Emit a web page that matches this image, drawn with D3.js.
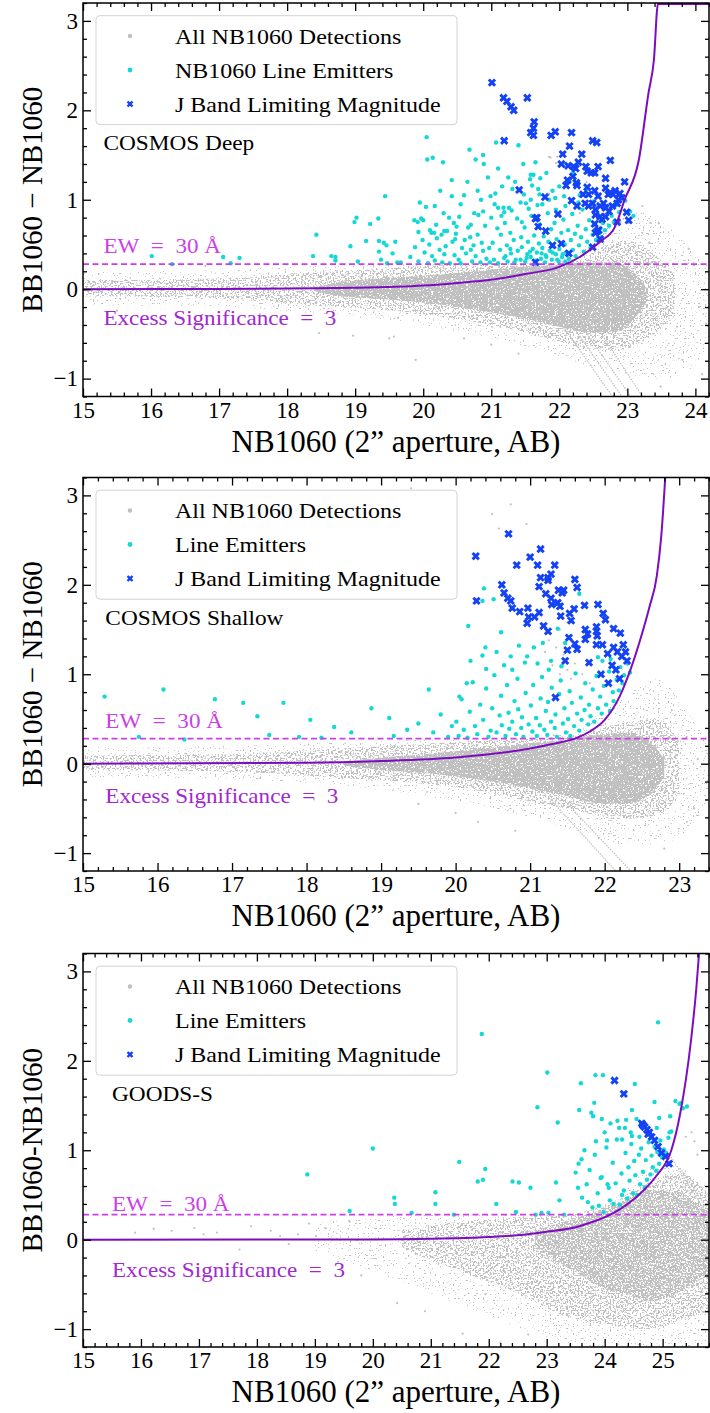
<!DOCTYPE html>
<html>
<head>
<meta charset="utf-8">
<script src="https://cdn.jsdelivr.net/npm/d3@7"></script>
<style>
body{margin:0;background:#fff}
</style>
</head>
<body>
<div id="chart"></div>
<script>

// ---- tick labels ----
var yTicks = [-1, 0, 1, 2, 3]
var deepXTicks = [15, 16, 17, 18, 19, 20, 21, 22, 23, 24]
var shallowXTicks = [15, 16, 17, 18, 19, 20, 21, 22, 23]
var goodsXTicks = [15, 16, 17, 18, 19, 20, 21, 22, 23, 24, 25]

var legendNames = ["All NB1060 Detections", "Line Emitters", "J Band Limiting Magnitude"]

// EW = 30 A line (colour excess)
var ewCut = 0.28

// ---- excess significance = 3 curves [mag, colour] ----
var deepCurve = [[15,0],[17,0.003],[18,0.008],[19,0.015],[20,0.04],[20.5,0.07],[21,0.106],[21.5,0.17],[22,0.25],[22.3,0.36],[22.6,0.53],[22.82,0.70],[22.96,1.0],[23.17,1.45],[23.31,2.19],[23.39,2.56],[23.45,3.19],[24.2,3.19]]
var shallowCurve = [[15,0],[18,0.01],[19,0.03],[20,0.07],[20.5,0.11],[21,0.17],[21.3,0.22],[21.6,0.28],[21.8,0.36],[22,0.49],[22.2,0.75],[22.35,1.06],[22.5,1.45],[22.6,1.75],[22.7,2.1],[22.76,2.55],[22.82,3.3]]
var goodsCurve = [[15,0],[20,0.003],[21,0.01],[22,0.03],[22.5,0.05],[23,0.09],[23.5,0.14],[23.8,0.2],[24.1,0.28],[24.4,0.4],[24.7,0.57],[24.9,0.72],[25.15,1.0],[25.3,1.4],[25.49,2.23],[25.58,2.8],[25.64,3.3]]

// ---- all detections: density envelopes [mag, upper, lower] ----
var deepFringe = [[15,0.2,-0.18],[17,0.22,-0.2],[18.5,0.26,-0.28],[20,0.28,-0.4],[21,0.28,-0.55],[21.8,0.30,-0.7],[22.4,0.5,-0.85],[23,0.9,-0.95],[23.5,0.75,-1.0],[24,0.4,-0.85],[24.2,0.25,-0.6]]
var deepHalo = [[15,0.10,-0.08],[17,0.12,-0.10],[18.3,0.18,-0.18],[19.2,0.22,-0.22],[20,0.26,-0.28],[21,0.28,-0.40],[21.8,0.29,-0.54],[22.4,0.38,-0.66],[22.9,0.55,-0.68],[23.3,0.45,-0.55],[23.7,0.15,-0.3]]
var deepCore = [[18.4,0.02,-0.02],[18.8,0.08,-0.08],[19.2,0.11,-0.10],[19.6,0.13,-0.12],[20,0.15,-0.15],[20.5,0.18,-0.20],[21,0.22,-0.26],[21.5,0.25,-0.33],[22,0.27,-0.42],[22.4,0.30,-0.48],[22.8,0.30,-0.48],[23.1,0.18,-0.33],[23.3,0.0,-0.12]]

var shallowFringe = [[15,0.18,-0.15],[17,0.2,-0.18],[18.5,0.24,-0.25],[20,0.28,-0.42],[21,0.30,-0.6],[21.6,0.4,-0.75],[22.2,0.7,-0.9],[22.7,0.95,-0.9],[23.1,0.6,-0.75],[23.4,0.2,-0.4]]
var shallowHalo = [[15,0.09,-0.07],[17,0.11,-0.09],[18.5,0.17,-0.16],[19.5,0.22,-0.22],[20.3,0.26,-0.30],[21,0.28,-0.42],[21.6,0.32,-0.52],[22.2,0.45,-0.62],[22.7,0.5,-0.58],[23,0.25,-0.35]]
var shallowCore = [[18.5,0.02,-0.02],[19,0.07,-0.07],[19.5,0.10,-0.10],[20,0.14,-0.14],[20.5,0.18,-0.20],[21,0.23,-0.28],[21.5,0.27,-0.36],[21.9,0.32,-0.44],[22.3,0.35,-0.45],[22.6,0.25,-0.35],[22.8,0.05,-0.15]]

var goodsFringe = [[19,0.18,-0.12],[20,0.25,-0.35],[21,0.28,-0.6],[22,0.28,-0.85],[23,0.28,-1.1],[24,0.40,-1.2],[25,0.85,-1.2],[25.8,0.6,-1.2]]
var goodsHalo = [[20.5,0.1,-0.1],[21.5,0.2,-0.35],[22.5,0.25,-0.6],[23.3,0.28,-0.85],[24,0.38,-0.95],[24.8,0.65,-1.0],[25.3,0.75,-0.9],[25.8,0.5,-0.8]]
var goodsCore = [[22.8,0.10,-0.10],[23.2,0.18,-0.25],[23.6,0.26,-0.40],[24,0.35,-0.55],[24.4,0.45,-0.62],[24.8,0.55,-0.68],[25.2,0.55,-0.62],[25.5,0.45,-0.50],[25.8,0.30,-0.40]]

// isolated detections [mag, colour]
var deepGrey = [[18.47,-0.49],[18.97,-0.52],[19.50,-0.55],[19.57,-0.53],[19.63,-0.32],[19.89,-0.79],[17.6,-0.28],[16.8,0.26],[15.5,-0.24],[20.6,-0.55],[21.0,-0.62],[21.4,-0.72],[23.61,-0.23],[23.73,-0.42],[23.81,-0.79],[23.49,-1.09],[23.22,0.63],[23.32,0.52],[22.0,1.37],[21.87,1.47],[21.95,1.41],[21.85,1.48],[21.97,1.48],[23.22,0.93],[23.34,0.74],[23.46,0.74],[21.85,1.07],[21.75,0.96],[21.85,1.06],[23.9,0.45],[24.05,-0.2],[24.1,-0.95],[22.4,1.2],[22.3,0.85],[22.6,0.7],[22.9,0.75]]
var shallowGrey = [[19.40,3.08],[19.46,3.00],[20.49,2.79],[20.58,2.63],[20.74,2.90],[20.95,2.68],[21.2,1.25],[21.3,1.1],[21.35,1.3],[21.4,1.0],[21.5,1.05],[21.55,0.95],[21.25,1.38],[21.45,1.22],[21.6,1.12],[21.65,1.25],[21.7,1.0],[21.4,1.5],[21.5,1.58],[21.8,0.9],[17.2,-0.35],[18.1,-0.4],[19.5,-0.45],[20.0,-0.55],[20.3,-0.65],[22.9,0.6],[23.1,0.3],[23.2,-0.5],[22.8,-0.95],[23.25,0.05],[20.8,-0.75]]
var goodsGrey = [[16.22,0.12],[16.53,0.10],[16.92,0.13],[17.08,0.06],[17.31,0.08],[17.70,-0.11],[18.24,0.10],[18.40,0.04],[18.71,0.06],[19.02,0.04],[19.18,0.13],[15.9,0.08],[17.9,0.15],[18.55,-0.05],[18.9,0.18],[19.4,-0.25],[19.6,0.2],[19.8,-0.4],[20.42,-0.71],[21.55,-1.05],[22.68,-1.06],[21.94,-0.61],[25.4,1.15],[25.5,1.2],[25.55,1.1],[25.6,0.95],[20.9,-0.8],[22.2,-1.15],[23.4,-1.18]]

// saturated / limit streaks [mag0, col0, mag1, col1]
var deepStreaks = [[21.95,-0.30,22.78,-1.2],[22.12,-0.33,22.92,-1.2],[22.30,-0.38,23.05,-1.2],[22.55,-0.42,23.22,-1.2]]
var shallowStreaks = [[21.25,-0.38,22.15,-1.2],[21.5,-0.45,22.35,-1.2]]
var goodsStreaks = [[25.12,0.95,25.8,0.25],[25.3,0.8,25.8,0.32]]

// ---- line emitters [mag, colour] ----
var deepCyan = [[16.01,0.37],[16.31,0.28],[17.06,0.36],[17.17,0.29],[17.30,0.35],[18.38,0.37],[18.43,0.61],[18.65,0.37],[18.71,0.36],[18.71,0.32],[18.93,0.48],[18.99,0.75],[19.02,0.80],[19.04,0.31],[19.16,0.54],[19.22,0.73],[19.34,0.79],[19.35,0.54],[19.42,0.52],[19.46,0.49],[19.35,0.42],[19.38,0.33],[19.47,0.29],[19.55,0.40],[19.59,0.53],[19.62,0.30],[19.67,0.30],[19.44,1.04],
[19.87,0.77],[19.92,0.75],[19.95,0.97],[19.97,0.79],[20.0,0.77],[20.04,0.92],[20.05,1.70],[20.06,1.45],[20.14,1.47],[20.17,0.93],[20.29,1.42],[20.42,1.22],[20.42,1.04],[20.68,1.56],[19.93,0.64],[20.10,0.66],[20.19,0.72],[20.12,0.63],[20.16,0.63],[20.27,0.61],[20.31,0.65],[20.35,0.65],[20.38,0.80],[20.45,0.74],[20.49,0.70],[20.53,0.81],[20.47,0.56],
[19.81,0.36],[19.88,0.47],[19.93,0.31],[19.99,0.55],[20.02,0.41],[20.07,0.29],[20.09,0.50],[20.13,0.37],[20.17,0.32],[20.24,0.44],[20.2,0.57],[20.28,0.30],[20.33,0.48],[20.31,0.39],[20.39,0.29],[20.43,0.53],[20.46,0.38],[20.52,0.33],[20.48,0.62],[20.57,0.46],[20.55,0.29],[20.63,0.40],[20.61,0.55],[20.66,0.69],[20.7,0.44],[20.72,0.31],[20.69,0.58],[20.77,0.37],[20.74,0.49],[20.81,0.83],[20.84,0.30],[20.8,0.61],[20.88,0.43],[20.86,0.52],[20.93,0.34],[20.91,0.71],[20.97,0.46],[20.98,0.30],
[20.77,1.45],[20.88,1.50],[20.89,1.40],[21.07,1.64],[21.40,1.61],[21.47,1.40],[21.65,1.42],[21.58,1.28],[21.62,1.28],[21.72,1.24],[21.57,1.23],[21.81,1.30],[21.16,1.15],[21.31,1.12],[21.35,1.20],[21.60,1.16],[21.69,1.12],[20.99,1.04],[21.06,1.07],[20.85,1.00],[20.75,0.85],[20.88,0.87],[21.10,0.91],[21.18,0.91],[21.26,0.91],[21.19,0.86],[21.48,1.06],[21.51,0.96],[21.43,0.97],[21.58,1.00],[21.68,0.94],[21.71,1.06],[21.85,1.00],[21.94,1.02],[22.07,1.04],[22.09,0.93],[21.95,0.89],
[21.02,0.52],[21.04,0.33],[21.09,0.68],[21.1,0.29],[21.13,0.44],[21.14,0.61],[21.19,0.35],[21.2,0.74],[21.23,0.49],[21.24,0.31],[21.28,0.63],[21.29,0.40],[21.33,0.55],[21.34,0.30],[21.38,0.79],[21.39,0.43],[21.43,0.33],[21.44,0.58],[21.45,0.47],[21.49,0.69],[21.5,0.31],[21.53,0.39],[21.54,0.53],[21.58,0.36],[21.59,0.82],[21.61,0.45],[21.63,0.60],[21.64,0.29],[21.67,0.41],[21.7,0.51],[21.71,0.72],[21.73,0.34],[21.75,0.46],[21.77,0.59],[21.79,0.30],[21.8,0.38],[21.83,0.85],[21.84,0.53],[21.86,0.43],[21.88,0.67],[21.89,0.33],[21.91,0.48],[21.93,0.74],[21.95,0.39],[21.96,0.56],[21.99,0.31],[22.0,0.45],[22.03,0.63],[22.04,0.36],[22.06,0.78],[22.08,0.50],[22.1,0.41],[22.13,0.66],[22.14,0.34],[22.17,0.55],[22.19,0.84],[22.2,0.44],[22.23,0.62],[22.24,0.37],[22.27,0.71],[22.29,0.49],[22.32,0.58],[22.34,0.89],[22.36,0.42],[22.39,0.67],[22.41,0.53],[22.44,0.77],[22.46,0.47],[22.49,0.61],[22.51,0.72],[22.54,0.55],[22.57,0.83],[22.59,0.63],[22.62,0.58],[22.64,0.74],[22.67,0.66],[22.69,0.92],[22.73,0.71],[22.77,0.82],[22.8,0.75],[22.84,0.94],[22.88,0.86],[22.97,0.99],[23.04,0.87],[23.09,0.82],
[21.21,0.37],[21.36,0.33],[21.52,0.35],[21.66,0.32],[21.81,0.36],[21.97,0.33],[22.09,0.31],[21.28,0.45],[21.57,0.42],[21.74,0.40],[21.9,0.41],[22.05,0.39],
[21.05,0.95],[21.15,0.82],[21.3,0.88],[21.45,0.75],[21.55,0.90],[21.75,0.95],[21.9,1.1],[22.0,1.15],[22.15,1.2],[22.3,1.05],[22.4,1.12],[22.5,0.98],[22.2,1.3],[22.28,0.97],[21.25,1.25],[21.1,1.35],[20.95,1.25],[20.6,1.05],[20.55,0.95],[20.7,0.72],[20.65,1.2],[20.25,1.1],[20.3,0.85],[20.8,1.1],[21.0,0.8]]

var shallowCyan = [[15.29,0.75],[16.08,0.83],[16.77,0.72],[17.15,0.68],[17.34,0.53],[17.69,0.68],[18.05,0.49],[18.37,0.41],[18.87,0.62],[19.11,0.51],[19.64,0.83],[19.17,0.31],[16.36,0.27],[15.75,0.30],[17.9,0.30],[18.6,0.35],[19.35,0.38],[19.5,0.45],[19.7,0.35],[19.8,0.55],[18.2,0.29],[17.5,0.32],[19.9,0.3],[19.95,0.42],
[20.38,1.96],[20.36,1.82],[20.51,1.84],[20.17,1.54],[20.61,1.47],[20.36,1.21],[20.74,1.20],[20.96,1.20],[20.93,1.13],[21.37,1.51],[21.66,1.90],[21.17,1.35],[21.47,1.35],[21.28,1.15],[21.42,1.09],[21.91,1.19],[21.97,1.15],[22.08,1.17],[20.41,1.06],[20.76,1.05],
[20.01,0.47],[20.04,0.31],[20.08,0.72],[20.11,0.38],[20.16,0.29],[20.19,0.58],[20.23,0.91],[20.26,0.42],[20.29,0.33],[20.33,0.66],[20.37,0.49],[20.41,0.84],[20.44,0.30],[20.47,0.37],[20.49,0.62],[20.52,0.99],[20.55,0.35],[20.59,0.54],[20.61,0.76],[20.62,0.43],[20.67,0.31],[20.69,0.88],[20.71,0.57],[20.72,0.39],[20.76,0.47],[20.79,0.70],[20.81,0.33],[20.83,0.95],[20.84,0.61],[20.88,0.40],[20.89,0.52],[20.91,0.30],[20.94,0.79],[20.98,0.44],[21.01,0.65],[21.03,0.36],[21.04,0.88],[21.08,0.51],[21.09,0.31],[21.13,0.43],[21.14,0.73],[21.16,0.97],[21.19,0.38],[21.21,0.59],[21.23,0.32],[21.24,0.69],[21.28,0.47],[21.29,0.85],[21.33,0.40],[21.34,0.55],[21.36,0.30],[21.39,0.78],[21.41,0.93],[21.44,0.45],[21.46,0.62],[21.48,0.35],[21.51,0.50],[21.53,0.81],[21.54,0.31],[21.56,0.68],[21.59,0.42],[21.61,1.01],[21.63,0.56],[21.66,0.37],[21.68,0.74],[21.69,0.49],[21.73,0.60],[21.74,0.90],[21.78,0.44],[21.79,0.66],[21.81,0.53],[21.84,0.83],[21.86,0.47],[21.89,0.98],[21.91,0.62],[21.94,0.75],[21.96,0.56],[21.99,0.87],[22.02,0.66],[22.06,1.03],[22.07,0.59],[22.11,0.80],[22.12,0.70],[22.16,0.94],[22.19,0.82],[22.21,1.08],[22.24,0.90],[22.26,0.99],[22.31,1.12],[22.34,1.02],
[20.4,1.3],[20.55,1.25],[20.85,1.32],[21.05,1.3],[21.25,1.05],[21.1,1.12],[20.65,1.1],[20.2,1.15],[20.15,0.9],[20.05,0.75]]

var goodsCyan = [[21.88,2.30],[24.92,2.43],[23.01,1.87],[23.84,1.84],[23.97,1.84],[23.59,1.75],[24.52,1.74],[22.84,1.48],[23.19,1.31],[23.82,1.53],[23.56,1.45],[23.77,1.42],[23.80,1.38],[23.95,1.35],[24.10,1.30],[24.22,1.33],[24.37,1.34],[24.47,1.45],[24.86,1.54],[25.22,1.55],[25.29,1.52],[25.32,1.53],[25.42,1.49],[25.35,1.47],[24.94,1.36],[25.13,1.38],[25.12,1.20],[24.47,1.16],[24.30,1.12],[24.04,1.11],
[18.87,0.73],[20.37,0.47],[20.38,0.40],[20.67,0.30],[21.08,0.53],[21.08,0.40],[21.40,0.28],[21.49,0.87],[21.81,0.65],[21.90,0.67],[21.94,0.79],[22.13,0.40],[22.41,0.65],[22.47,0.31],[22.52,0.64],[22.72,0.58],[22.81,0.28],[22.91,0.30],[23.03,0.30],[23.16,0.64],[23.22,0.44],[23.30,0.28],[23.50,0.75],[23.54,0.58],[23.61,0.47],[23.69,0.62],[19.6,0.32],[20.0,1.02],
[23.71,0.42],[23.74,0.78],[23.79,0.36],[23.83,0.95],[23.88,0.52],[23.93,0.69],[23.98,0.31],[24.03,1.03],[24.07,0.58],[24.09,0.44],[24.14,0.86],[24.19,0.63],[24.21,1.12],[24.26,0.39],[24.29,0.74],[24.33,0.55],[24.36,0.97],[24.39,0.46],[24.41,0.81],[24.43,0.66],[24.46,1.07],[24.49,0.52],[24.51,0.88],[24.53,0.72],[24.56,0.50],[24.59,0.95],[24.61,0.62],[24.63,1.02],[24.66,0.76],[24.69,0.58],[24.71,0.89],[24.73,0.67],[24.76,1.09],[24.79,0.73],[24.81,0.94],[24.83,0.81],[24.86,1.04],[24.89,0.77],[24.91,0.98],[24.94,0.85],[24.96,1.11],[24.99,0.92],[25.02,1.01],[25.06,0.97],[25.1,1.14],[25.15,1.21],
[24.3,0.5],[24.15,0.4],[24.05,0.62],[23.95,0.7],[23.9,0.38],[23.6,0.9],[23.65,1.0],[23.55,0.85],[24.25,1.25],[24.45,1.2],[24.6,1.15],[24.75,1.2],[24.9,1.25],[24.55,1.35],[24.35,1.25],[24.0,1.2],[23.85,1.1]]

// ---- J band limiting magnitude [mag, colour] ----
var deepBlue = [[21.01,2.31],[21.18,2.14],[21.23,2.10],[21.29,2.04],[21.33,2.00],[21.53,2.14],[21.63,1.87],[21.62,1.80],[21.58,1.75],[21.62,1.72],[21.88,1.72],[21.94,1.76],[22.18,1.75],[21.19,1.66],[22.49,1.66],[22.55,1.64],[22.15,1.60],[22.05,1.51],[22.33,1.51],[22.75,1.44],[22.03,1.40],[22.13,1.38],[22.21,1.37],[22.24,1.35],[22.28,1.42],[22.39,1.37],[22.41,1.32],[22.47,1.30],[22.52,1.30],[22.57,1.37],[22.20,1.26],[22.12,1.22],[22.10,1.16],[22.25,1.19],[22.26,1.16],[22.68,1.24],[22.41,1.14],[21.41,1.11],[22.52,1.10],[22.57,1.04],[22.68,1.13],[22.72,1.06],[22.75,1.08],[22.79,1.06],[22.82,1.10],[22.89,1.07],[22.92,1.02],[22.96,1.20],[22.35,1.06],[22.43,1.06],[21.79,1.03],[22.18,0.99],[22.26,0.93],[22.38,0.96],[22.43,0.93],[22.49,0.96],[22.53,0.89],[22.60,0.93],[22.65,0.96],[22.68,0.91],[22.73,0.87],[22.78,0.93],[22.85,0.96],[22.87,1.00],[21.98,0.84],[21.65,0.79],[22.53,0.83],[22.60,0.81],[22.68,0.81],[22.63,0.78],[22.52,0.73],[22.58,0.66],[22.53,0.63],[22.85,0.75],[22.99,0.86],[23.02,0.77],[21.69,0.70],[21.80,0.65],[22.60,0.56],[21.90,0.49],[22.03,0.51],[22.49,0.47],[22.14,0.40],[21.65,0.30],[21.67,0.80],[22.56,0.65]]

var shallowBlue = [[20.71,2.57],[20.27,2.32],[21.14,2.40],[21.00,2.31],[20.82,2.22],[21.10,2.22],[21.33,2.22],[21.14,2.08],[21.24,2.08],[21.28,2.12],[21.24,2.05],[21.60,2.06],[21.63,1.97],[20.62,2.00],[20.65,1.91],[20.70,1.85],[20.74,1.82],[20.76,1.74],[20.86,1.70],[20.28,1.82],[21.12,1.98],[21.21,1.90],[21.28,1.85],[21.29,1.78],[21.38,1.94],[21.45,1.94],[21.43,1.91],[21.37,1.80],[21.40,1.76],[21.41,1.65],[20.97,1.74],[20.98,1.64],[21.06,1.64],[21.12,1.69],[20.96,1.57],[21.53,1.68],[21.55,1.60],[21.59,1.73],[21.73,1.77],[21.91,1.78],[21.98,1.68],[22.01,1.61],[21.18,1.54],[21.24,1.48],[21.52,1.41],[21.60,1.34],[21.63,1.28],[21.50,1.27],[21.47,1.15],[21.74,1.50],[21.77,1.45],[21.74,1.39],[21.89,1.53],[21.89,1.48],[21.90,1.43],[21.89,1.33],[21.97,1.33],[22.12,1.51],[22.21,1.46],[22.12,1.30],[22.17,1.25],[22.23,1.20],[22.25,1.33],[21.79,1.13],[22.04,1.23],[21.34,0.74],[21.95,1.0],[22.05,0.9],[22.15,1.05],[22.2,0.95],[22.3,1.15],[22.28,1.25],[22.1,1.1]]

var goodsBlue = [[24.17,1.78],[24.33,1.63],[24.64,1.30],[24.66,1.28],[24.69,1.26],[24.73,1.23],[24.75,1.18],[24.77,1.20],[24.81,1.15],[24.86,1.11],[24.92,1.04],[24.98,0.97],[25.05,0.93],[25.11,0.85]]

// ---- layout ----
var W = 710, H = 1413
var left = 83, right = 709, plotH = 393.5
var tops = [3, 477.5, 953.5]
var FONT = '"Liberation Serif", "Times New Roman", "DejaVu Serif", serif'

var colGrey = "#c0c0c0", colCyan = "#14d8d6", colBlue = "#1443f5"
var colEW = "#cc3ee8", colSig = "#a128d0", colCurve = "#7d0cc0"

var panels = [
	{name:"COSMOS Deep", xmax:24.2, xTicks:deepXTicks, ylab:"BB1060 \u2212 NB1060", emit:"NB1060 Line Emitters",
	 fringe:deepFringe, halo:deepHalo, core:deepCore, coreGrain:"grainCore", grey:deepGrey, streaks:deepStreaks, cyan:deepCyan, blue:deepBlue, curve:deepCurve,
	 labX:15.3, ewY:0.40, sigY:-0.40, nameY:1.56},
	{name:"COSMOS Shallow", xmax:23.4, xTicks:shallowXTicks, ylab:"BB1060 \u2212 NB1060", emit:legendNames[1],
	 fringe:shallowFringe, halo:shallowHalo, core:shallowCore, coreGrain:"grainCore", grey:shallowGrey, streaks:shallowStreaks, cyan:shallowCyan, blue:shallowBlue, curve:shallowCurve,
	 labX:15.3, ewY:0.40, sigY:-0.44, nameY:1.55},
	{name:"GOODS-S", xmax:25.8, xTicks:goodsXTicks, ylab:"BB1060-NB1060", emit:legendNames[1],
	 fringe:goodsFringe, halo:goodsHalo, core:goodsCore, coreGrain:"grainMid", grey:goodsGrey, streaks:goodsStreaks, cyan:goodsCyan, blue:goodsBlue, curve:goodsCurve,
	 labX:15.5, ewY:0.32, sigY:-0.42, nameY:1.55}
]

var svg = d3.select("#chart").append("svg")
	.attr("width", W)
	.attr("height", H)
	.style("font-family", FONT)

var defs = svg.append("defs")

// speckle textures standing in for the dense cloud of grey detections
var grains = [{id:"grainFringe", seed:2, cut:-13}, {id:"grainHalo", seed:5, cut:-10.6}, {id:"grainMid", seed:7, cut:-9.4}, {id:"grainCore", seed:9, cut:-7.6}]
grains.forEach(function(gr){
	var f = defs.append("filter").attr("id", gr.id)
		.attr("filterUnits", "userSpaceOnUse")
		.attr("x", 0).attr("y", 0).attr("width", W).attr("height", H)
		.attr("color-interpolation-filters", "sRGB")
	f.append("feTurbulence").attr("type", "fractalNoise").attr("baseFrequency", 0.6)
		.attr("numOctaves", 1).attr("seed", gr.seed).attr("result", "noise")
	f.append("feColorMatrix").attr("in", "noise").attr("type", "matrix")
		.attr("values", "0 0 0 0 0  0 0 0 0 0  0 0 0 0 0  20 0 0 0 " + gr.cut).attr("result", "mask")
	f.append("feComposite").attr("in", "SourceGraphic").attr("in2", "mask").attr("operator", "in")
})

var cross = d3.symbol().type(d3.symbolCross).size(44)

// serif text, widened a little to get closer to Computer Modern proportions
function txt(sel, x, y, size, sx, s){
	return sel.append("text")
		.attr("transform", "translate(" + x + "," + y + ") scale(" + sx + ",1)")
		.style("font-family", FONT)
		.style("font-size", size + "px")
		.text(s)
}

panels.forEach(function(p, i){

	var top = tops[i], bottom = top + plotH

	var x = d3.scaleLinear().domain([15, p.xmax]).range([left, right])
	var y = d3.scaleLinear().domain([-1.2, 3.2]).range([bottom, top])

	defs.append("clipPath").attr("id", "clip" + i)
		.append("rect").attr("x", left).attr("y", top).attr("width", right - left).attr("height", plotH)

	var g = svg.append("g")
	var plot = g.append("g").attr("clip-path", "url(#clip" + i + ")")

	var area = d3.area()
		.x(function(d){ return x(d[0]) })
		.y0(function(d){ return y(d[2]) })
		.y1(function(d){ return y(d[1]) })
		.curve(d3.curveMonotoneX)

	//all detections
	plot.append("path").datum(p.fringe).attr("d", area).attr("fill", colGrey).attr("filter", "url(#grainFringe)")
	plot.append("path").datum(p.halo).attr("d", area).attr("fill", colGrey).attr("filter", "url(#grainHalo)")
	plot.append("path").datum(p.core).attr("d", area).attr("fill", colGrey).attr("filter", "url(#" + p.coreGrain + ")")

	plot.append("g").selectAll("line")
		.data(p.streaks)
		.enter().append("line")
		.attr("x1", function(d){ return x(d[0]) })
		.attr("y1", function(d){ return y(d[1]) })
		.attr("x2", function(d){ return x(d[2]) })
		.attr("y2", function(d){ return y(d[3]) })
		.attr("stroke", colGrey)
		.attr("stroke-width", 1.2)
		.attr("stroke-dasharray", "1.5,1.2")

	plot.append("g").selectAll("circle")
		.data(p.grey)
		.enter().append("circle")
		.attr("cx", function(d){ return x(d[0]) })
		.attr("cy", function(d){ return y(d[1]) })
		.attr("r", 1.1)
		.attr("fill", colGrey)

	//line emitters
	plot.append("g").selectAll("circle")
		.data(p.cyan)
		.enter().append("circle")
		.attr("cx", function(d){ return x(d[0]) })
		.attr("cy", function(d){ return y(d[1]) })
		.attr("r", 2.2)
		.attr("fill", colCyan)

	//J band limited
	plot.append("g").selectAll("path")
		.data(p.blue)
		.enter().append("path")
		.attr("d", cross)
		.attr("transform", function(d){ return "translate(" + x(d[0]) + "," + y(d[1]) + ") rotate(45)" })
		.attr("fill", colBlue)

	// EW line and significance curve
	plot.append("line")
		.attr("x1", x(15)).attr("x2", x(p.xmax))
		.attr("y1", y(ewCut)).attr("y2", y(ewCut))
		.attr("stroke", colEW).attr("stroke-width", 1.6).attr("stroke-dasharray", "6,3.5")

	var line = d3.line()
		.x(function(d){ return x(d[0]) })
		.y(function(d){ return y(d[1]) })
		.curve(d3.curveMonotoneX)

	plot.append("path").datum(p.curve).attr("d", line)
		.attr("fill", "none").attr("stroke", colCurve).attr("stroke-width", 2)

	// frame + ticks (all inward)
	g.append("rect").attr("x", left).attr("y", top).attr("width", right - left).attr("height", plotH)
		.attr("fill", "none").attr("stroke", "#000").attr("stroke-width", 1.5)

	var xMinor = d3.range(150, Math.round(p.xmax * 10) + 1, 2).map(function(v){ return v / 10 }).filter(function(v){ return v % 1 != 0 })
	var yMinor = d3.range(-12, 33, 2).map(function(v){ return v / 10 }).filter(function(v){ return v % 1 != 0 })

	function ax(gen, tr, vals, size, labels){
		var a = g.append("g").attr("transform", tr)
			.call(gen.tickValues(vals).tickSize(-size).tickPadding(5).tickFormat(labels ? d3.format("d") : ""))
		a.attr("font-family", null).attr("font-size", null)
		a.select(".domain").remove()
		a.selectAll("line").attr("stroke", "#000").attr("stroke-width", 1.3)
		a.selectAll("text").style("font-size", "23px").style("font-family", FONT).attr("fill", "#000")
		return a
	}

	ax(d3.axisBottom(x), "translate(0," + bottom + ")", p.xTicks, 8, true)
	ax(d3.axisBottom(x), "translate(0," + bottom + ")", xMinor, 4, false)
	ax(d3.axisTop(x), "translate(0," + top + ")", p.xTicks, 8, false)
	ax(d3.axisTop(x), "translate(0," + top + ")", xMinor, 4, false)
	ax(d3.axisLeft(y), "translate(" + left + ",0)", yTicks, 8, true)
	ax(d3.axisLeft(y), "translate(" + left + ",0)", yMinor, 4, false)
	ax(d3.axisRight(y), "translate(" + right + ",0)", yTicks, 8, false)
	ax(d3.axisRight(y), "translate(" + right + ",0)", yMinor, 4, false)

	// axis titles
	txt(g, (left + right) / 2, bottom + 55, 31, 1, "NB1060 (2\u201D aperture, AB)")
		.attr("text-anchor", "middle")

	g.append("text")
		.attr("transform", "translate(42," + (top + plotH / 2) + ") rotate(-90)")
		.attr("text-anchor", "middle")
		.style("font-family", FONT).style("font-size", "29px")
		.text(p.ylab)

	// annotations
	txt(g, x(p.labX), y(p.ewY), 22, 1.05, "EW\u2002=\u200230 \u00C5").style("fill", colEW)
	txt(g, x(p.labX), y(p.sigY), 22, 1.05, "Excess Significance\u2002=\u20023").style("fill", colSig)
	txt(g, x(p.labX), y(p.nameY), 22, 1.06, p.name)

	// legend
	var lg = g.append("g").attr("transform", "translate(96," + (top + 12.7) + ")")
	lg.append("rect").attr("width", 361).attr("height", 109).attr("rx", 4)
		.attr("fill", "#fff").attr("fill-opacity", 0.8).attr("stroke", "#d3d3d3").attr("stroke-width", 1)

	var names = [legendNames[0], p.emit, legendNames[2]]
	names.forEach(function(n, k){
		var ry = 20.3 + k * 34
		if(k == 0)
			lg.append("circle").attr("cx", 34).attr("cy", ry).attr("r", 2.2).attr("fill", colGrey)
		else if(k == 1)
			lg.append("circle").attr("cx", 34).attr("cy", ry).attr("r", 2.4).attr("fill", colCyan)
		else
			lg.append("path").attr("d", d3.symbol().type(d3.symbolCross).size(28))
				.attr("transform", "translate(34," + ry + ") rotate(45)").attr("fill", colBlue)
		txt(lg, 79, ry + 7.5, 22, 1.09, n)
	})
})

</script>
</body>
</html>
